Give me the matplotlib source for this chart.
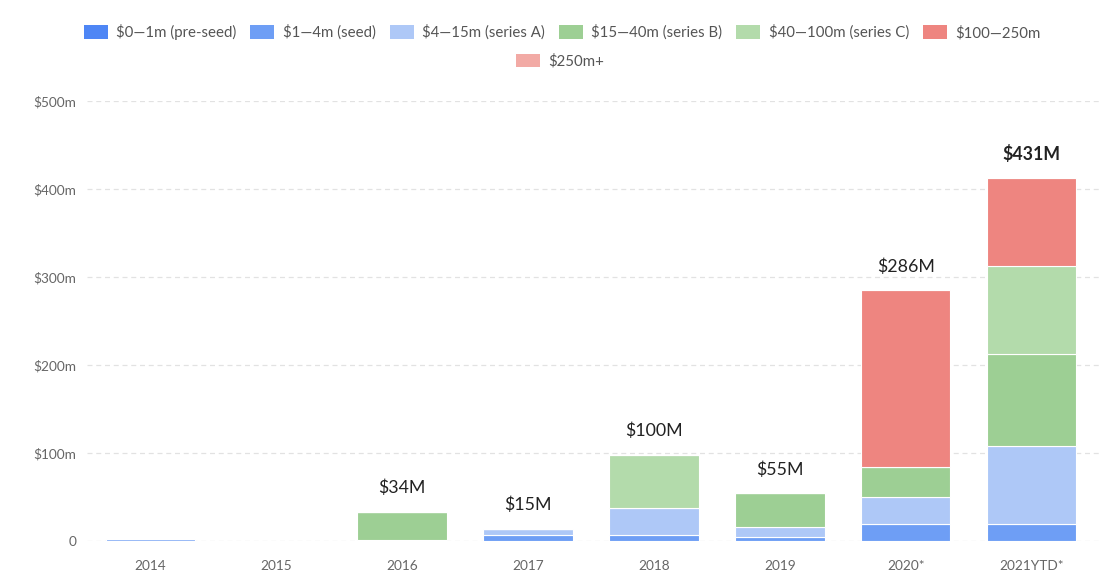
import matplotlib.pyplot as plt
from matplotlib.patches import Patch
import numpy as np

plt.rcParams['font.family'] = ['Lato', 'DejaVu Sans']

# Données (en millions de dollars)
annees = ["2014", "2015", "2016", "2017", "2018", "2019", "2020*", "2021YTD*"]
pre_seed = [0, 0, 0, 0, 0, 0, 0, 0]
seed = [2, 0, 0.5, 6.5, 6.5, 4.5, 19, 19]
serie_a = [0, 0, 1, 7.5, 31.5, 11, 31, 89]
serie_b = [0, 0, 32, 0, 0, 39, 34, 105]
serie_c = [0, 0, 0, 0, 60, 0, 0, 99]
tranche_100_250 = [0, 0, 0, 0, 0, 0, 201, 101]
tranche_250_plus = [0, 0, 0, 0, 0, 0, 0, 0]
etiquettes = ["", "", "$34M", "$15M", "$100M", "$55M", "$286M", "$431M"]

series = [
    ("$0\u20141m (pre-seed)", pre_seed, "#4e86f5"),
    ("$1\u20144m (seed)", seed, "#6e9ef5"),
    ("$4\u201415m (series A)", serie_a, "#aec8f7"),
    ("$15\u201440m (series B)", serie_b, "#9dcf94"),
    ("$40\u2014100m (series C)", serie_c, "#b3dbab"),
    ("$100\u2014250m", tranche_100_250, "#ee8580"),
    ("$250m+", tranche_250_plus, "#f2aaa5"),
]

fig = plt.figure(figsize=(11.2, 5.82), dpi=100)
ax = fig.add_axes([0.078, 0.0704, 0.905, 0.756])

x = np.arange(len(annees))
bas = np.zeros(len(annees))
for nom, valeurs, couleur in series:
    valeurs = np.array(valeurs, dtype=float)
    ax.bar(x, valeurs, bottom=bas, width=0.71, color=couleur,
           edgecolor="white", linewidth=0.8, zorder=3)
    bas += valeurs

# Totaux au-dessus des barres
for i, texte in enumerate(etiquettes):
    if texte:
        poids = "bold" if i == len(annees) - 1 else "normal"
        ax.annotate(texte, (x[i], bas[i]), xytext=(0, 17),
                    textcoords="offset points", ha="center", va="center",
                    fontsize=12.8, color="#222222", fontweight=poids,
                    annotation_clip=False)

ax.set_xlim(-0.5, len(annees) - 0.45)
ax.set_ylim(0, 500)
ax.set_xticks(x)
ax.set_xticklabels(annees)
ax.set_yticks([0, 100, 200, 300, 400, 500])
ax.set_yticklabels(["0", "$100m", "$200m", "$300m", "$400m", "$500m"])
ax.tick_params(axis="both", length=0, labelsize=9.8, labelcolor="#666666")
ax.tick_params(axis="x", pad=14)
ax.tick_params(axis="y", pad=8)
ax.grid(axis="y", color="#e2e2e2", linestyle=(0, (4, 3)), linewidth=0.9, zorder=0)
ax.set_axisbelow(True)
for cote in ax.spines.values():
    cote.set_visible(False)

# Légende sur deux lignes
poignees = [Patch(facecolor=c, edgecolor="none", label=n) for n, _, c in series]
options = dict(frameon=False, fontsize=10.8, labelcolor="#555555",
               handlelength=1.6, handleheight=1.0, handletextpad=0.55)
fig.legend(handles=poignees[:6], loc="center", ncol=6,
           bbox_to_anchor=(0.502, 0.945), columnspacing=0.95, **options)
fig.legend(handles=poignees[6:], loc="center", ncol=1,
           bbox_to_anchor=(0.5, 0.895), **options)

fig.savefig("out.png", dpi=100)
